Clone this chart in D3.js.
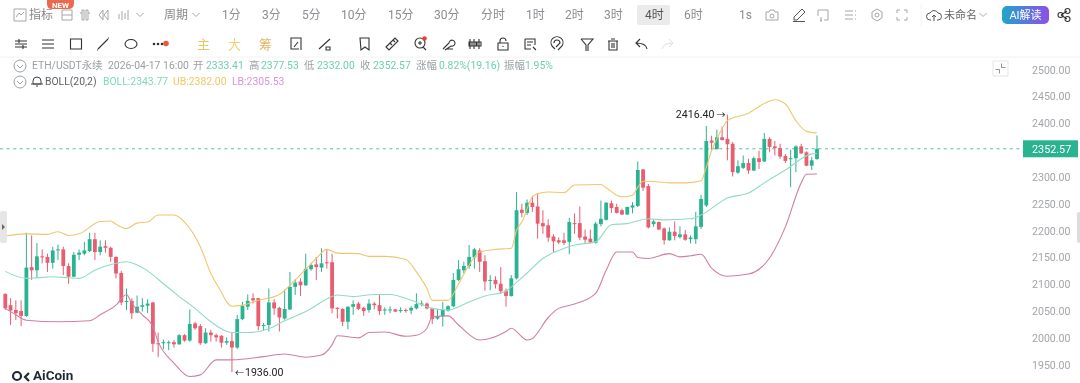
<!DOCTYPE html>
<html>
<head>
<meta charset="utf-8">
<script src="https://cdn.jsdelivr.net/npm/d3@7"></script>
<style>
  html, body { margin: 0; padding: 0; background: #fff; overflow: hidden; }
  text { font-family: Roboto, "Noto Sans CJK SC", sans-serif; }
</style>
</head>
<body>
<div id="chart-container"></div>
<script>
// Candles (4h ETH/USDT)
const opens = [
  2082,2061,2052,2050,2041,2132,2126,2152,2151,2140,
  2163,2165,2134,2114,2155,2157,2162,2184,2160,2171,
  2168,2151,2121,2067,2069,2047,2058,2060,2066,1990,
  1990,1990,1992,1988,2005,1995,2027,2022,1990,2010,
  2005,2004,1991,1994,1982,2035,2058,2074,2074,2022,
  2024,2066,2056,2036,2053,2095,2105,2098,2128,2137,
  2131,2141,2141,2056,2054,2030,2058,2064,2056,2052,
  2064,2061,2051,2052,2053,2050,2052,2051,2055,2062,
  2064,2055,2036,2040,2051,2059,2108,2126,2134,2150,
  2163,2143,2106,2108,2101,2088,2078,2111,2239,2233,
  2252,2245,2214,2210,2189,2182,2182,2179,2214,2214,
  2189,2185,2177,2212,2220,2251,2244,2238,2230,2243,
  2246,2314,2283,2212,2216,2204,2182,2198,2188,2193,
  2184,2184,2207,2247,2368,2352,2374,2371,2362,2308,
  2317,2326,2312,2335,2329,2371,2357,2354,2339,2334,
  2335,2357,2346,2321,2333.41];
const highs = [
  2083,2074,2070,2070,2196,2191,2177,2165,2157,2170,
  2174,2170,2139,2160,2165,2179,2196,2196,2182,2182,
  2170,2152,2125,2092,2074,2079,2074,2072,2067,2010,
  1997,1995,1996,2007,2007,2053,2030,2026,2018,2015,
  2008,2005,2001,2010,2043,2067,2081,2083,2074,2028,
  2092,2072,2058,2090,2123,2109,2111,2157,2139,2151,
  2167,2164,2157,2057,2055,2059,2070,2067,2058,2072,
  2067,2080,2057,2059,2054,2057,2055,2059,2083,2070,
  2066,2056,2054,2067,2061,2121,2145,2142,2173,2168,
  2167,2154,2117,2115,2132,2092,2117,2272,2250,2258,
  2264,2268,2238,2221,2193,2187,2196,2224,2232,2245,
  2202,2202,2216,2256,2253,2256,2250,2241,2245,2253,
  2329,2315,2287,2221,2217,2206,2206,2217,2208,2201,
  2191,2235,2267,2395,2377,2388,2394,2416.4,2365,2331,
  2340,2334,2338,2349,2382,2374,2367,2362,2343,2351,
  2359,2362,2348,2337,2377.53];
const lows = [
  2052,2024,2033,2022,2039,2108,2111,2139,2123,2129,
  2145,2117,2101,2113,2145,2154,2160,2145,2154,2159,
  2142,2111,2061,2052,2035,2046,2049,2046,1974,1964,
  1979,1977,1982,1987,1993,1993,2015,1987,1989,1993,
  1993,1982,1987,1936,1979,2033,2052,2064,2014,2014,
  2012,2043,2012,2034,2052,2080,2078,2097,2125,2108,
  2123,2129,2046,2036,2022,2016,2043,2052,2041,2047,
  2053,2043,2043,2046,2048,2047,2047,2044,2053,2059,
  2053,2026,2034,2021,2049,2057,2106,2121,2129,2129,
  2123,2088,2089,2092,2082,2058,2077,2109,2225,2229,
  2235,2185,2194,2179,2160,2175,2173,2156,2194,2182,
  2177,2176,2176,2208,2219,2233,2232,2229,2229,2232,
  2244,2274,2204,2207,2201,2174,2181,2182,2185,2181,
  2176,2175,2203,2244,2349,2351,2368,2331,2301,2306,
  2315,2306,2311,2315,2328,2346,2340,2334,2326,2281,
  2309,2343,2320,2313,2332];
const closes = [
  2055,2051,2046,2041,2131,2126,2152,2150,2140,2163,
  2165,2134,2114,2155,2159,2163,2184,2160,2170,2168,
  2151,2120,2066,2069,2046,2058,2061,2064,1989,1989,
  1992,1992,1988,2005,1995,2026,2018,1990,2010,2005,
  2001,1991,1994,1982,2035,2060,2069,2070,2022,2024,
  2066,2055,2038,2054,2095,2103,2098,2129,2136,2132,
  2139,2139,2055,2054,2030,2058,2063,2054,2050,2064,
  2061,2050,2053,2053,2049,2052,2051,2056,2063,2064,
  2055,2035,2041,2052,2059,2108,2128,2134,2151,2165,
  2142,2105,2108,2100,2087,2078,2111,2238,2233,2252,
  2244,2213,2208,2187,2180,2178,2177,2216,2212,2187,
  2183,2178,2213,2222,2252,2242,2233,2230,2244,2247,
  2313,2280,2206,2217,2202,2182,2198,2190,2193,2183,
  2187,2208,2259,2367,2364,2374,2369,2361,2309,2320,
  2326,2312,2335,2328,2371,2356,2354,2338,2330,2335,
  2357,2344,2321,2331,2352.57];

// BOLL bands: candle number and value, read at the bends of each line
const upperIdx = [1,5,9,11,13,15,19,21,22,24,26,28,30,33,35,38,40,42,43,44,46,49,53,56,58,60,62,64,68,70,73,77,79,81,82,85,87,89,91,94,97,98,99,101,102,104,107,109,114,115,117,118,120,121,122,123,127,130,133,134,135,136,137,138,142,145,147,149,151,153,155];
const upperVal = [2190,2194,2193,2198,2191,2194,2217,2218,2212,2204,2214,2216,2229,2229,2216,2170,2120,2085,2067,2059,2061,2070,2081,2108,2128,2148,2165,2158,2157,2152,2152,2146,2123,2092,2070,2070,2101,2136,2160,2165,2167,2201,2216,2263,2269,2272,2271,2285,2286,2280,2266,2263,2266,2281,2292,2292,2289,2289,2293,2318,2349,2371,2390,2405,2419,2437,2444,2436,2405,2385,2382];
const midIdx = [1,5,7,10,13,15,18,22,24,26,28,31,34,37,40,44,47,51,54,58,63,64,67,71,74,78,82,85,89,92,96,97,100,103,106,109,113,116,119,123,126,131,133,138,142,145,149,154,155];
const midVal = [2124,2111,2112,2114,2112,2111,2126,2139,2142,2136,2125,2101,2077,2055,2030,2010,2010,2017,2032,2049,2077,2080,2077,2081,2081,2070,2055,2052,2067,2078,2087,2095,2121,2148,2163,2173,2179,2211,2213,2222,2220,2222,2229,2261,2270,2289,2313,2343,2343.77];
const lowerIdx = [1,3,5,11,17,19,22,24,25,27,29,30,33,36,38,41,44,50,54,58,61,63,64,68,70,73,77,79,81,82,85,87,91,96,97,100,101,104,106,109,113,115,117,120,121,123,127,129,131,133,135,138,142,146,149,152,153,155];
const lowerVal = [2055,2043,2033,2030,2032,2043,2061,2081,2064,2043,2021,1993,1953,1928,1931,1959,1959,1965,1970,1964,1968,1987,2004,2000,2010,2011,2003,2005,2018,2039,2041,2024,1996,2012,2018,1996,1999,2038,2055,2063,2083,2126,2160,2160,2150,2148,2157,2151,2153,2156,2130,2115,2119,2149,2207,2289,2305,2305.53];

const yTicks = [2500,2450,2400,2350,2300,2250,2200,2150,2100,2050,2000,1950];
const periodLabels = ["1分","3分","5分","10分","15分","30分","分时","1时","2时","3时","4时","6时","1s"];
const indicatorLabels = ["主","大","筹"];
const quoteParts = [
  ["ETH/USDT永续","#9aa0a6"],["2026-04-17 16:00","#9aa0a6"],
  ["开","#9aa0a6"],["2333.41","#6fcfb0"],["高","#9aa0a6"],["2377.53","#6fcfb0"],
  ["低","#9aa0a6"],["2332.00","#6fcfb0"],["收","#9aa0a6"],["2352.57","#6fcfb0"],
  ["涨幅","#9aa0a6"],["0.82%(19.16)","#6fcfb0"],["振幅","#9aa0a6"],["1.95%","#6fcfb0"]];
const bollParts = [
  ["BOLL(20,2)","#5f6368"],["BOLL:2343.77","#7fd8bd"],["UB:2382.00","#f4c860"],["LB:2305.53","#d993dd"]];

const candles = opens.map((o, i) => ({ n: i + 1, o: o, h: highs[i], l: lows[i], c: closes[i] }));
const lastClose = closes[closes.length - 1];

const width = 1080, height = 383;
const up = "#2cb391", down = "#e85d6f";

const svg = d3.select("#chart-container").append("svg")
    .attr("width", width)
    .attr("height", height)
    .style("display", "block");

// the reference is a soft jpeg screenshot
svg.append("filter").attr("id", "soft")
    .append("feGaussianBlur").attr("stdDeviation", 0.35);
const root = svg.append("g").attr("filter", "url(#soft)");
root.append("rect").attr("width", width).attr("height", height).attr("fill", "#fff");

// Scales
const x = d3.scaleLinear().domain([1, 155]).range([5.3, 817]);
const y = d3.scaleLinear().domain([1950, 2500]).range([364.7, 69.7]);

// Price axis
const axisG = root.append("g")
    .attr("transform", "translate(1032,0)")
    .call(d3.axisRight(y).tickValues(yTicks.filter(t => t !== 2350)).tickFormat(d3.format(".2f")).tickSize(0).tickPadding(0));
axisG.select(".domain").remove();
axisG.selectAll("text").attr("fill", "#a3a6aa").attr("font-size", 10.6).attr("font-family", "Roboto");

// Last price line and tag
root.append("line")
    .attr("x1", 0).attr("x2", 1023)
    .attr("y1", y(lastClose)).attr("y2", y(lastClose))
    .attr("stroke", up).attr("stroke-width", 0.8).attr("stroke-dasharray", "3,3.6");
root.append("rect")
    .attr("x", 1023).attr("y", y(lastClose) - 8.5)
    .attr("width", 55).attr("height", 17)
    .attr("fill", up);
root.append("text")
    .attr("x", 1032).attr("y", y(lastClose) + 4)
    .attr("fill", "#fff").attr("font-size", 10.8)
    .text(d3.format(".2f")(lastClose));

// Candles
const candleG = root.selectAll(".candle").data(candles).enter().append("g").attr("class", "candle");
candleG.append("line")
    .attr("x1", d => x(d.n)).attr("x2", d => x(d.n))
    .attr("y1", d => y(d.h)).attr("y2", d => y(d.l))
    .attr("stroke", d => d.c >= d.o ? up : down)
    .attr("stroke-width", 1);
candleG.append("rect")
    .attr("x", d => x(d.n) - 1.9)
    .attr("width", 3.8)
    .attr("y", d => y(Math.max(d.o, d.c)))
    .attr("height", d => Math.max(1, Math.abs(y(d.o) - y(d.c))))
    .attr("fill", d => d.c >= d.o ? up : down);

// BOLL lines
const bandLine = d3.line().x(d => x(d[0])).y(d => y(d[1])).curve(d3.curveMonotoneX);
[[upperIdx, upperVal, "#f0c66e"], [midIdx, midVal, "#8fdcc3"], [lowerIdx, lowerVal, "#cf7fa6"]].forEach(b => {
    root.append("path")
        .attr("d", bandLine(b[0].map((n, i) => [n, b[1][i]])))
        .attr("fill", "none")
        .attr("stroke", b[2])
        .attr("stroke-width", 1.1);
});

// High / low markers
const hi = candles[d3.maxIndex(highs)], lo = candles[d3.minIndex(lows)];
root.append("text").attr("x", x(hi.n) - 13).attr("y", y(hi.h) + 3.5)
    .attr("text-anchor", "end").attr("font-size", 10.6).attr("fill", "#222")
    .text(d3.format(".2f")(hi.h));
root.append("text").attr("x", x(hi.n) - 11).attr("y", y(hi.h) + 3.5)
    .attr("font-size", 9).attr("fill", "#222").text("→");
root.append("text").attr("x", x(lo.n) + 3).attr("y", y(lo.l) + 3.5)
    .attr("font-size", 9).attr("fill", "#222").text("←");
root.append("text").attr("x", x(lo.n) + 13).attr("y", y(lo.l) + 3.5)
    .attr("font-size", 10.6).attr("fill", "#222")
    .text(d3.format(".2f")(lo.l));

// Watermark
root.append("text").attr("x", 33).attr("y", 380)
    .attr("font-size", 13.5).attr("font-weight", 700).attr("fill", "#1f2a37").attr("font-family", "Lato, Roboto")
    .text("AiCoin");
root.append("circle").attr("cx", 17).attr("cy", 376).attr("r", 4)
    .attr("fill", "none").attr("stroke", "#1f2a37").attr("stroke-width", 2.2);
root.append("path").attr("d", "M29 373 L25 377 L29 381").attr("fill", "none").attr("stroke", "#1f2a37").attr("stroke-width", 2.2);

// Side handles
root.append("rect").attr("x", 0).attr("y", 211).attr("width", 7).attr("height", 32).attr("rx", 2).attr("fill", "#e6e6e6");
root.append("path").attr("d", "M2 224 L5 227 L2 230 Z").attr("fill", "#666");
root.append("rect").attr("x", 1077).attr("y", 212).attr("width", 4).attr("height", 31).attr("rx", 2).attr("fill", "#dcdcdc");

// Toolbar
const bar = root.append("g");
bar.append("line").attr("x1", 0).attr("x2", 1080).attr("y1", 57).attr("y2", 57).attr("stroke", "#f2f2f2");
bar.append("line").attr("x1", 921).attr("x2", 921).attr("y1", 4).attr("y2", 27).attr("stroke", "#f2f2f2");

const periodX = [222,262,302,341,388,434,481,526,565,604,645,684,739];
bar.append("rect").attr("x", 637).attr("y", 5).attr("width", 33).attr("height", 20).attr("rx", 2).attr("fill", "#ebebeb");
periodLabels.forEach((t, i) => {
    bar.append("text").attr("x", periodX[i]).attr("y", 19)
        .attr("font-size", 12).attr("fill", t === "4时" ? "#555" : "#8a8d91").text(t);
});
bar.append("text").attr("x", 29).attr("y", 19).attr("font-size", 12).attr("fill", "#85888c").text("指标");
bar.append("text").attr("x", 164).attr("y", 19).attr("font-size", 12).attr("fill", "#85888c").text("周期");
bar.append("text").attr("x", 944).attr("y", 19).attr("font-size", 11).attr("fill", "#666").text("未命名");

// NEW badge
bar.append("path").attr("d", "M47 0 H74 V3 Q74 9 68 9 H52 Q47 9 47 4 Z").attr("fill", "#ea6a4e");
bar.append("text").attr("x", 60.5).attr("y", 7.5).attr("text-anchor", "middle")
    .attr("font-size", 8).attr("font-weight", 700).attr("fill", "#fff").text("NEW");

// AI badge
const grad = svg.append("linearGradient").attr("id", "aiGrad");
grad.append("stop").attr("offset", "0").attr("stop-color", "#1fa6c9");
grad.append("stop").attr("offset", "1").attr("stop-color", "#8d4fe8");
bar.append("rect").attr("x", 1002).attr("y", 6).attr("width", 47).attr("height", 18).attr("rx", 5).attr("fill", "url(#aiGrad)");
bar.append("text").attr("x", 1025.5).attr("y", 19).attr("text-anchor", "middle")
    .attr("font-size", 11).attr("fill", "#fff").text("AI解读");

// Indicator shortcuts
const indicatorX = [197, 228, 259];
const indicatorColor = ["#e8c765", "#eed27e", "#e3b765"];
indicatorLabels.forEach((t, i) => {
    bar.append("text").attr("x", indicatorX[i]).attr("y", 49).attr("font-size", 13)
        .attr("font-family", "Noto Sans CJK SC").attr("fill", indicatorColor[i]).text(t);
});

// Small icons, drawn in a box centred on 0,0
const icons = {
    chart: "M-6 -6 H6 V6 H-6 Z M-4 2 L-1 -2 L1 0 L4 -3",
    split: "M-5 -5 H5 V5 H-5 Z M-5 0 H5",
    dash: "M-3 -5 H-1 V5 H-3 Z M1 -5 H3 V5 H1 Z M-5 -2 H-3 M3 -2 H5",
    back: "M0 -5 L-4 0 L0 5 Z M5 -5 L1 0 L5 5 Z",
    bars: "M-5 -1 V4 M-2 -4 V5 M1 -2 V4 M4 -5 V5",
    chevron: "M-3.5 -2 L0 1.5 L3.5 -2",
    sliders: "M-6 -3 H6 M-6 0 H6 M-6 3 H6 M-2 -5 V-1 M2 1 V5",
    lines: "M-6 -4 H6 M-6 0 H6 M-6 4 H6",
    square: "M-5.5 -5 H5.5 V5 H-5.5 Z",
    segment: "M-5 5 L5 -5 M-6 6 h1 M5 -6 h1",
    ellipse: "M-6 0 A6 4.5 0 1 0 6 0 A6 4.5 0 1 0 -6 0",
    rotate: "M-5 -3 V-6 H5 V3 M-5 -3 V5 H3 M-2 3 L2 -2 M5 6 L5 3",
    pencilLine: "M-6 5 L5 -5 M1 3 h4 v3 h-4 Z",
    flag: "M-4 -6 H5 V6 L1 3 L-3 6 Z",
    ruler: "M-6 3 L3 -6 L6 -3 L-3 6 Z M-2 -1 L0 1 M1 -4 L3 -2",
    zoom: "M-5 -1 A5 5 0 1 0 5 -1 A5 5 0 1 0 -5 -1 M3 3 L6 6 M-2 -1 H2 M0 -3 V1",
    wand: "M-5 5 L1 -1 A3 3 0 1 1 3 2 L-3 6 M-1 5 H5",
    candles: "M-5 -5 V5 M-1 -5 V5 M4 -5 V5 M-6 -2 H-3 V2 H-6 Z M-3 -2 H1 V2 H-3 Z M2 -2 H6 V2 H2 Z",
    lock: "M-5 -1 H5 V6 H-5 Z M-3 -1 V-3 A3 3 0 0 1 3 -3 M0 2 V3",
    note: "M-5 -5 H5 V1 M-5 -5 V5 H1 M-3 -2 H3 M-3 1 H1 M3 3 L6 6",
    magnet: "M-5 2 A6 6 0 1 1 5 2 L1 6 M-3 -1 A3 3 0 1 1 3 -1 L-1 3 M-5 2 L-2 5",
    filter: "M-6 -5 H6 L1 1 V7 M-1 7 V1 L-6 -5",
    trash: "M-5 -3 H5 M-2 -5 H2 M-4 -3 V6 H4 V-3 M-1 -1 V4 M1 -1 V4",
    undo: "M6 5 Q5 -1 -5 -1 M-1 -5 L-5 -1 L-1 3",
    redo: "M-6 5 Q-5 -1 5 -1 M1 -5 L5 -1 L1 3",
    camera: "M-6 -3 H-3 L-2 -5 H2 L3 -3 H6 V5 H-6 Z M-2 1 A2 2 0 1 0 2 1 A2 2 0 1 0 -2 1",
    pen: "M-5 5 L-5 2 L3 -6 L6 -3 L-2 5 Z M-6 6.5 H6",
    replay: "M-5 -5 H5 V5 H1 M-5 -5 V1 M-3 5 L-1 5 M-2 2 V7",
    menu: "M-5 -4 H3 M-5 0 H3 M-5 4 H3 M5 -4 h1 M5 0 h1 M5 4 h1",
    gear: "M0 -6 L5 -3 V3 L0 6 L-5 3 V-3 Z M-2 0 A2 2 0 1 0 2 0 A2 2 0 1 0 -2 0",
    expand: "M-5 -2 V-5 H-2 M2 -5 H5 V-2 M5 2 V5 H2 M-2 5 H-5 V2",
    cloud: "M-3 5 H-4 A3.5 3.5 0 0 1 -4 -2 A4.5 4.5 0 0 1 4 -2 A3.5 3.5 0 0 1 4 5 H3 M0 6 V0 M-2 2 L0 0 L2 2",
    share: "M-3 0 L3 -4 M-3 0 L3 4 M-6 0 A2.5 2.5 0 1 0 -1 0 A2.5 2.5 0 1 0 -6 0 M1 -4 A2.5 2.5 0 1 0 6 -4 A2.5 2.5 0 1 0 1 -4 M1 4 A2.5 2.5 0 1 0 6 4 A2.5 2.5 0 1 0 1 4",
    collapseBox: "M-7.5 -7.5 H7.5 V7.5 H-7.5 Z",
    collapseMarks: "M-5 1 H-1 V5 M1 -5 V-1 H5",
    circleDown: "M-6 0 A6 6 0 1 0 6 0 A6 6 0 1 0 -6 0 M-3 -1 L0 2 L3 -1",
    bell: "M-4 3 V0 A4 4 0 0 1 4 0 V3 H-4 M-6 3 H6 M-1 5 H1"
};
function icon(name, cx, cy, color, sw) {
    bar.append("path").attr("d", icons[name])
        .attr("transform", `translate(${cx},${cy})`)
        .attr("fill", "none").attr("stroke", color).attr("stroke-width", sw || 1);
}
[["chart",20],["split",67],["dash",85],["back",103],["bars",124],["chevron",140],["chevron",196],
 ["camera",772],["pen",799],["replay",823],["menu",850],["gear",877],["expand",902],["cloud",934],["chevron",983]]
    .forEach(d => icon(d[0], d[1], 15, d[0] === "pen" || d[0] === "cloud" ? "#555" : "#a3a6aa"));
icon("share", 1064, 15, "#333", 1.1);
[["sliders",21],["lines",48],["square",76],["segment",103],["ellipse",131],["rotate",296],["pencilLine",325],
 ["flag",364],["ruler",392],["zoom",420],["wand",448],["candles",475],["lock",503],["note",530],["magnet",557],
 ["filter",587],["trash",613],["undo",641]]
    .forEach(d => icon(d[0], d[1], 44, "#333", 1.1));
icon("redo", 668, 44, "#dddddd");
// "more" dots
[154, 158, 162].forEach(cx => bar.append("circle").attr("cx", cx).attr("cy", 44).attr("r", 1.3).attr("fill", "#333"));
bar.append("circle").attr("cx", 166).attr("cy", 43.5).attr("r", 2.8).attr("fill", "#ea5a3a");
bar.append("circle").attr("cx", 424.5).attr("cy", 38.5).attr("r", 2.3).attr("fill", "#e8413c");

// Quote rows
icon("collapseBox", 1000.5, 68.5, "#dedede", 0.8);
icon("collapseMarks", 1000.5, 68.5, "#777", 0.8);
icon("circleDown", 20, 66, "#9aa0a6");
icon("circleDown", 20, 82, "#9aa0a6");
icon("bell", 37, 81, "#444");
const quoteX = [32,108,193,206,249,261,304,317,360,373,416,439,504,525];
quoteParts.forEach((p, i) => {
    bar.append("text").attr("x", quoteX[i]).attr("y", 69).attr("font-size", 10.4).attr("fill", p[1]).text(p[0]);
});
const bollX = [45,103,173,232];
bollParts.forEach((p, i) => {
    bar.append("text").attr("x", bollX[i]).attr("y", 85).attr("font-size", 10.4).attr("fill", p[1]).text(p[0]);
});
</script>
</body>
</html>
